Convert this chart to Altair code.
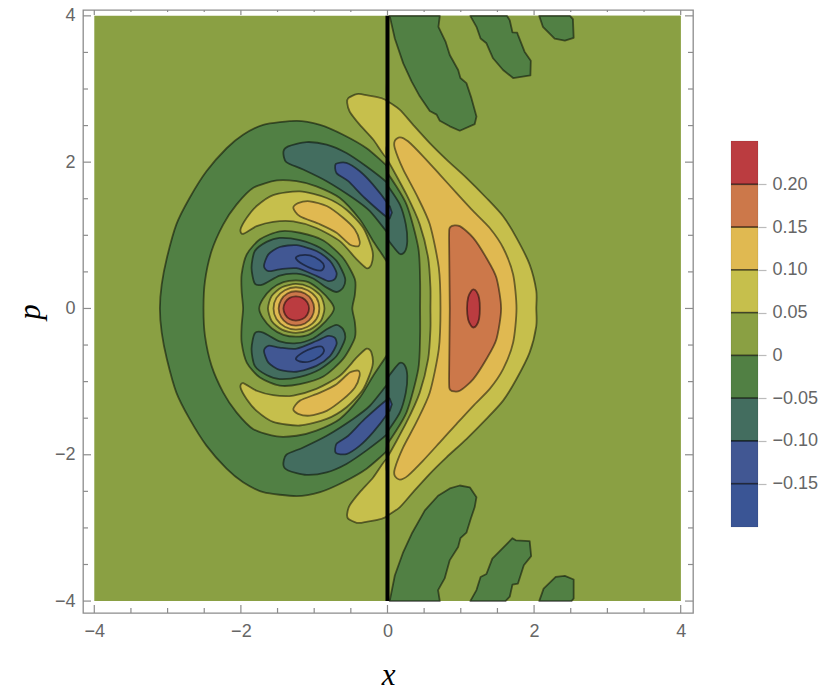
import altair as alt
import pandas as pd

OLIVE = "#8aa043"; GREEN = "#518044"; TEAL = "#436d5f"; BLUE = "#415793"; DEEP = "#3a5595"
YELLOW = "#c6bf4c"; GOLD = "#e0b951"; ORANGE = "#cc784a"; RED = "#bb3c40"

background = [[-4, 4], [4, 4], [4, -4], [-4, -4]]
right_base = [[0, 4], [4, 4], [4, -4], [0, -4]]

# left half
lobe_up = [[0, 2.83], [-.31, 2.92], [-.42, 2.93], [-.535, 2.875], [-.55, 2.81], [-.515, 2.69], [-.377, 2.51], [-.195, 2.31], [0, 2.05], [0, 2.4]]
lobe_dn = [[0, -2.83], [-.31, -2.92], [-.42, -2.93], [-.535, -2.875], [-.55, -2.81], [-.515, -2.69], [-.377, -2.51], [-.195, -2.31], [0, -2.05], [0, -2.4]]
ring = [[-3.105, 0], [-3.08, .33], [-3.01, .69], [-2.88, 1.15], [-2.70, 1.51], [-2.47, 1.875], [-2.195, 2.19], [-1.97, 2.375], [-1.695, 2.51], [-1.24, 2.565], [-.92, 2.51], [-.605, 2.375], [-.285, 2.19], [0, 1.94], [0, 1.9],
        [0, -1.9], [0, -1.94], [-.285, -2.19], [-.605, -2.375], [-.92, -2.51], [-1.24, -2.565], [-1.695, -2.51], [-1.97, -2.375], [-2.195, -2.19], [-2.47, -1.875], [-2.70, -1.51], [-2.88, -1.15], [-3.01, -.69], [-3.08, -.33]]
ring_in = [[-2.51, 0], [-2.49, .375], [-2.40, .785], [-2.24, 1.15], [-2.06, 1.42], [-1.83, 1.65], [-1.51, 1.75], [-1.24, 1.74], [-.97, 1.67], [-.65, 1.51], [-.377, 1.216], [-.195, .92], [0, .625], [0, .59],
           [0, -.59], [0, -.625], [-.195, -.92], [-.377, -1.216], [-.65, -1.51], [-.97, -1.67], [-1.24, -1.74], [-1.51, -1.75], [-1.83, -1.65], [-2.06, -1.42], [-2.24, -1.15], [-2.40, -.785], [-2.49, -.375]]
teal_up = [[-1.42, 2.14], [-1.355, 2.215], [-1.105, 2.275], [-.83, 2.24], [-.56, 2.125], [-.285, 1.94], [0, 1.715], [0, 1.68], [0, 1.07], [0, 1.035], [-.24, 1.33], [-.47, 1.51], [-.83, 1.74], [-1.15, 1.90], [-1.38, 2.0]]
teal_dn = [[-1.42, -2.14], [-1.355, -2.215], [-1.105, -2.275], [-.83, -2.24], [-.56, -2.125], [-.285, -1.94], [0, -1.715], [0, -1.68], [0, -1.07], [0, -1.035], [-.24, -1.33], [-.47, -1.51], [-.83, -1.74], [-1.15, -1.90], [-1.38, -2.0]]
blue_up = [[-.705, 1.975], [-.56, 1.99], [-.377, 1.875], [-.195, 1.69], [0, 1.44], [0, 1.41], [0, 1.27], [0, 1.24], [-.31, 1.51], [-.535, 1.74], [-.695, 1.85]]
blue_dn = [[-.705, -1.975], [-.56, -1.99], [-.377, -1.875], [-.195, -1.69], [0, -1.44], [0, -1.41], [0, -1.27], [0, -1.24], [-.31, -1.51], [-.535, -1.74], [-.695, -1.85]]
cres_up = [[-2.005, 1.08], [-1.92, 1.24], [-1.785, 1.40], [-1.56, 1.55], [-1.195, 1.60], [-.83, 1.51], [-.56, 1.35], [-.33, 1.10], [-.205, .785], [-.22, .60], [-.285, .55], [-.42, .67], [-.65, .92], [-.97, 1.10], [-1.285, 1.19], [-1.56, 1.185], [-1.785, 1.125], [-1.97, 1.02]]
cres_dn = [[-2.005, -1.08], [-1.92, -1.24], [-1.785, -1.40], [-1.56, -1.55], [-1.195, -1.60], [-.83, -1.51], [-.56, -1.35], [-.33, -1.10], [-.205, -.785], [-.22, -.60], [-.285, -.55], [-.42, -.67], [-.65, -.92], [-.97, -1.10], [-1.285, -1.19], [-1.56, -1.185], [-1.785, -1.125], [-1.97, -1.02]]
gold_up = [[-1.285, 1.375], [-1.22, 1.44], [-1.06, 1.465], [-.83, 1.40], [-.605, 1.24], [-.445, 1.08], [-.38, .92], [-.40, .85], [-.515, .875], [-.695, 1.035], [-.92, 1.15], [-1.195, 1.26]]
gold_dn = [[-1.285, -1.375], [-1.22, -1.44], [-1.06, -1.465], [-.83, -1.40], [-.605, -1.24], [-.445, -1.08], [-.38, -.92], [-.40, -.85], [-.515, -.875], [-.695, -1.035], [-.92, -1.15], [-1.195, -1.26]]
peanut = [[-1.97, 0], [-1.99, .24], [-1.99, .465], [-1.92, .74], [-1.74, .945], [-1.47, 1.055], [-1.195, 1.035], [-.875, .93], [-.605, .69], [-.445, .40], [-.445, .19], [-.48, 0],
          [-.445, -.19], [-.445, -.40], [-.605, -.69], [-.875, -.93], [-1.195, -1.035], [-1.47, -1.055], [-1.74, -.945], [-1.92, -.74], [-1.99, -.465], [-1.99, -.24]]
ptl_up = [[-1.855, .555], [-1.81, .785], [-1.65, .91], [-1.47, .965], [-1.195, .935], [-.92, .83], [-.695, .65], [-.58, .42], [-.605, .285], [-.695, .225], [-.83, .285], [-1.015, .41], [-1.24, .475], [-1.47, .45], [-1.695, .33], [-1.81, .34]]
ptl_dn = [[-1.855, -.555], [-1.81, -.785], [-1.65, -.91], [-1.47, -.965], [-1.195, -.935], [-.92, -.83], [-.695, -.65], [-.58, -.42], [-.605, -.285], [-.695, -.225], [-.83, -.285], [-1.015, -.41], [-1.24, -.475], [-1.47, -.45], [-1.695, -.33], [-1.81, -.34]]
pbl_up = [[-1.685, .58], [-1.625, .74], [-1.47, .84], [-1.24, .865], [-.97, .785], [-.785, .65], [-.695, .49], [-.72, .40], [-.81, .375], [-.97, .445], [-1.24, .55], [-1.47, .535], [-1.625, .51]]
pbl_dn = [[-1.685, -.58], [-1.625, -.74], [-1.47, -.84], [-1.24, -.865], [-.97, -.785], [-.785, -.65], [-.695, -.49], [-.72, -.40], [-.81, -.375], [-.97, -.445], [-1.24, -.55], [-1.47, -.535], [-1.625, -.51]]
pdp_up = [[-1.25, .685], [-1.195, .725], [-1.06, .725], [-.92, .655], [-.865, .58], [-.90, .52], [-1.005, .535], [-1.15, .60]]
pdp_dn = [[-1.25, -.685], [-1.195, -.725], [-1.06, -.725], [-.92, -.655], [-.865, -.58], [-.90, -.52], [-1.005, -.535], [-1.15, -.60]]
lemon0 = [[-1.75, 0], [-1.70, .13], [-1.58, .27], [-1.42, .36], [-1.25, .385], [-1.08, .36], [-.92, .25], [-.78, .10], [-.73, 0], [-.78, -.10], [-.92, -.25], [-1.08, -.36], [-1.25, -.385], [-1.42, -.36], [-1.58, -.27], [-1.70, -.13]]
lemon1 = [[-1.63, 0], [-1.58, .17], [-1.44, .29], [-1.25, .335], [-1.06, .29], [-.91, .17], [-.86, 0], [-.91, -.17], [-1.06, -.29], [-1.25, -.335], [-1.44, -.29], [-1.58, -.17]]
lemon2 = [[-1.555, 0], [-1.515, .145], [-1.40, .25], [-1.25, .29], [-1.09, .25], [-.97, .145], [-.93, 0], [-.97, -.145], [-1.09, -.25], [-1.25, -.29], [-1.40, -.25], [-1.515, -.145]]
lemon3 = [[-1.485, 0], [-1.45, .12], [-1.365, .205], [-1.25, .235], [-1.125, .205], [-1.035, .12], [-1.0, 0], [-1.035, -.12], [-1.125, -.205], [-1.25, -.235], [-1.365, -.205], [-1.45, -.12]]
lemon4 = [[-1.42, 0], [-1.395, .085], [-1.335, .145], [-1.25, .165], [-1.16, .145], [-1.095, .085], [-1.07, 0], [-1.095, -.085], [-1.16, -.145], [-1.25, -.165], [-1.335, -.145], [-1.395, -.085]]

# right half
tong1 = [[.03, 4], [.10, 3.69], [.215, 3.35], [.33, 3.10], [.44, 2.90], [.577, 2.70], [.67, 2.65], [.714, 2.565], [.85, 2.49], [.986, 2.43], [1.19, 2.52], [1.214, 2.625], [1.145, 2.875], [1.077, 3.08], [.995, 3.15], [.964, 3.26], [.85, 3.465], [.795, 3.64], [.695, 3.85], [.714, 4]]
tong2 = [[1.13, 4], [1.214, 3.85], [1.27, 3.69], [1.35, 3.625], [1.44, 3.42], [1.577, 3.26], [1.714, 3.15], [1.95, 3.185], [1.955, 3.385], [1.87, 3.51], [1.78, 3.74], [1.77, 3.77], [1.705, 3.775], [1.668, 3.94], [1.63, 4]]
tong3 = [[2.07, 4], [2.12, 3.85], [2.28, 3.69], [2.42, 3.66], [2.54, 3.70], [2.53, 3.955], [2.49, 4]]
tong4 = [[.03, -4], [.10, -3.65], [.215, -3.33], [.33, -3.08], [.51, -2.76], [.69, -2.56], [.85, -2.46], [.986, -2.42], [1.123, -2.445], [1.214, -2.58], [1.19, -2.715], [1.136, -2.875], [1.077, -3.065], [.995, -3.14], [.964, -3.26], [.85, -3.44], [.78, -3.69], [.69, -3.85], [.714, -4]]
tong5 = [[1.13, -4], [1.214, -3.85], [1.27, -3.67], [1.35, -3.63], [1.43, -3.42], [1.705, -3.14], [1.75, -3.17], [1.94, -3.18], [1.96, -3.385], [1.86, -3.51], [1.78, -3.76], [1.705, -3.775], [1.668, -3.94], [1.61, -4]]
tong6 = [[2.07, -4], [2.13, -3.83], [2.295, -3.67], [2.42, -3.655], [2.54, -3.705], [2.54, -3.965], [2.51, -4]]
right_yellow = [[0, 2.79], [0, 2.83], [.17, 2.715], [.35, 2.51], [.577, 2.26], [.805, 2.035], [1.077, 1.785], [1.35, 1.51], [1.577, 1.26], [1.76, .965], [1.94, .60], [2.03, .24], [2.03, 0],
                [2.03, -.24], [1.94, -.60], [1.76, -.965], [1.577, -1.26], [1.35, -1.51], [1.077, -1.785], [.805, -2.035], [.577, -2.26], [.35, -2.51], [.17, -2.715], [0, -2.83], [0, -2.79]]
right_olive = [[0, 1.96], [0, 2.03], [.26, 1.555], [.44, 1.15], [.555, .69], [.586, .285], [.586, 0], [.586, -.285], [.555, -.69], [.44, -1.15], [.26, -1.555], [0, -2.03], [0, -1.96]]
right_green = [[0, 1.78], [0, 1.85], [.26, 1.42], [.42, .83], [.445, .375], [.445, 0], [.445, -.375], [.42, -.83], [.26, -1.42], [0, -1.85], [0, -1.78]]
right_teal_up = [[0, 1.62], [0, 1.68], [.17, 1.42], [.25, 1.15], [.27, .92], [.235, .775], [.16, .75], [0, .95], [0, 1.0]]
right_teal_dn = [[0, -1.62], [0, -1.68], [.17, -1.42], [.25, -1.15], [.27, -.92], [.235, -.775], [.16, -.75], [0, -.95], [0, -1.0]]
sliver_up = [[0, 1.40], [.03, 1.40], [.06, 1.31], [.03, 1.23], [0, 1.23]]
sliver_dn = [[0, -1.40], [.03, -1.40], [.06, -1.31], [.03, -1.23], [0, -1.23]]
right_gold = [[.10, 2.19], [.10, 2.29], [.17, 2.34], [.28, 2.285], [.486, 2.08], [.714, 1.83], [.94, 1.58], [1.17, 1.33], [1.395, 1.10], [1.577, .83], [1.714, .465], [1.76, 0],
              [1.714, -.465], [1.577, -.83], [1.395, -1.10], [1.17, -1.33], [.94, -1.58], [.714, -1.83], [.486, -2.08], [.28, -2.285], [.17, -2.34], [.10, -2.29], [.10, -2.19],
              [.214, -1.90], [.395, -1.555], [.577, -1.15], [.70, -.557], [.723, 0], [.70, .557], [.577, 1.15], [.395, 1.555], [.214, 1.90]]
right_orange = [[.86, 1.115], [.986, 1.125], [1.17, .965], [1.35, .69], [1.486, .42], [1.55, 0], [1.486, -.42], [1.35, -.69], [1.17, -.965], [.986, -1.125], [.86, -1.115], [.84, -.965], [.85, 0], [.84, .965]]
right_red = [[1.085, 0], [1.10, .15], [1.14, .235], [1.175, .26], [1.215, .23], [1.25, .14], [1.26, 0], [1.25, -.14], [1.215, -.23], [1.175, -.26], [1.14, -.235], [1.10, -.15]]

# (outline, fill, drawn with a contour line, smooth)
shapes = [
    (background, OLIVE, False, False),
    (lobe_up, YELLOW, True, True), (lobe_dn, YELLOW, True, True),
    (ring, GREEN, True, True), (ring_in, OLIVE, True, True),
    (teal_up, TEAL, True, True), (teal_dn, TEAL, True, True),
    (blue_up, BLUE, True, True), (blue_dn, BLUE, True, True),
    (cres_up, YELLOW, True, True), (cres_dn, YELLOW, True, True),
    (gold_up, GOLD, True, True), (gold_dn, GOLD, True, True),
    (peanut, GREEN, True, True),
    (ptl_up, TEAL, True, True), (ptl_dn, TEAL, True, True),
    (pbl_up, BLUE, True, True), (pbl_dn, BLUE, True, True),
    (pdp_up, DEEP, True, True), (pdp_dn, DEEP, True, True),
    (lemon0, OLIVE, True, True), (lemon1, YELLOW, True, True), (lemon2, GOLD, True, True),
    (lemon3, ORANGE, True, True), (lemon4, RED, True, True),
    (right_base, OLIVE, False, False),
    (tong1, GREEN, True, False), (tong2, GREEN, True, False), (tong3, GREEN, True, False),
    (tong4, GREEN, True, False), (tong5, GREEN, True, False), (tong6, GREEN, True, False),
    (right_yellow, YELLOW, True, True), (right_olive, OLIVE, True, True), (right_green, GREEN, True, True),
    (right_teal_up, TEAL, True, True), (right_teal_dn, TEAL, True, True),
    (sliver_up, BLUE, True, False), (sliver_dn, BLUE, True, False),
    (right_gold, GOLD, True, True), (right_orange, ORANGE, True, True), (right_red, RED, True, True),
]

major_ticks = [-4, -2, 0, 2, 4]
minor_ticks = [-3.5, -3, -2.5, -1.5, -1, -.5, .5, 1, 1.5, 2.5, 3, 3.5]

legend_lo = [.20, .15, .10, .05, 0, -.05, -.10, -.15, -.2006]
legend_hi = [.2506, .20, .15, .10, .05, 0, -.05, -.10, -.15]
legend_colors = [RED, ORANGE, GOLD, YELLOW, OLIVE, GREEN, TEAL, BLUE, DEEP]
legend_levels = [.20, .15, .10, .05, 0, -.05, -.10, -.15]

W, H = 610, 603
INK = "#666666"
FRAME = "#8c8c8c"
xs = alt.Scale(domain=[-4.154, 4.168], nice=False, zero=False)
ys = alt.Scale(domain=[-4.163, 4.08], nice=False, zero=False)
label_expr = "replace(datum.label, '-', '\u2212')"
x_axis = alt.Axis(values=major_ticks, title="x", grid=False, ticks=False, domain=False, labelColor=INK,
                  labelFont="Liberation Sans", labelFontSize=18, labelPadding=9, labelExpr=label_expr,
                  titleFont="Liberation Serif", titleFontStyle="italic", titleFontWeight="normal",
                  titleFontSize=31, titleColor="black", titlePadding=20)
y_axis = alt.Axis(values=major_ticks, title="p", grid=False, ticks=False, domain=False, labelColor=INK,
                  labelFont="Liberation Sans", labelFontSize=18, labelPadding=8, labelExpr=label_expr,
                  titleFont="Liberation Serif", titleFontStyle="italic", titleFontWeight="normal",
                  titleFontSize=31, titleColor="black", titlePadding=8)

layers = []
for outline, fill, contour, smooth in shapes:
    frame = pd.DataFrame(outline, columns=["x", "p"])
    frame["i"] = range(len(frame))
    mark = alt.Chart(frame).mark_line(
        interpolate="cardinal-closed" if smooth else "linear-closed",
        tension=0.25,
        stroke="black", strokeOpacity=0.5 if contour else 0, strokeWidth=1.8, strokeJoin="round",
    )
    layers.append(mark.encode(
        x=alt.X("x:Q", scale=xs, axis=x_axis),
        y=alt.Y("p:Q", scale=ys, axis=y_axis),
        order=alt.Order("i:Q"),
        fill=alt.value(fill),
    ))

axis_line = alt.Chart(pd.DataFrame({"x": [0], "p0": [-4], "p1": [4]})).mark_rule(color="black", strokeWidth=4).encode(
    x=alt.X("x:Q", scale=xs, axis=x_axis), y=alt.Y("p0:Q", scale=ys, axis=y_axis), y2="p1:Q")
layers.append(axis_line)

def tick_layers(values, long):
    frame = pd.DataFrame({"v": values})
    x = alt.X("v:Q", scale=xs, axis=x_axis)
    y = alt.Y("v:Q", scale=ys, axis=y_axis)
    base = alt.Chart(frame).mark_rule(color=FRAME, strokeWidth=1.2)
    return [
        base.encode(x=x, y=alt.value(H), y2=alt.value(H - long)),
        base.encode(x=x, y=alt.value(0), y2=alt.value(long - 3)),
        base.encode(y=y, x=alt.value(0), x2=alt.value(long)),
        base.encode(y=y, x=alt.value(W), x2=alt.value(W - long)),
    ]

layers += tick_layers(major_ticks, 8) + tick_layers(minor_ticks, 5)

main = alt.layer(*layers).properties(width=W, height=H, view=alt.ViewConfig(stroke=FRAME, strokeWidth=1.3))

ls = alt.Scale(domain=[-.3012, .4038], nice=False, zero=False)
legend_axis = alt.Axis(
    orient="right", values=legend_levels, title=None, grid=False, domain=False,
    tickColor="#bbbbbb", tickSize=8, tickWidth=1.2, labelColor=INK, labelFont="Liberation Sans",
    labelFontSize=18, labelPadding=6,
    labelExpr="datum.value == 0 ? '0' : replace(format(datum.value, '.2f'), '-', '\u2212')")
bands = pd.DataFrame({"lo": legend_lo, "hi": legend_hi, "c": legend_colors})
band_layer = alt.Chart(bands).mark_rect(stroke="black", strokeOpacity=0.08, strokeWidth=1).encode(
    x=alt.value(0), x2=alt.value(27),
    y=alt.Y("lo:Q", scale=ls, axis=legend_axis),
    y2="hi:Q",
    fill=alt.Fill("c:N", scale=None),
)
level_layer = alt.Chart(pd.DataFrame({"v": legend_levels})).mark_rule(color="black", strokeOpacity=0.6, strokeWidth=1.6).encode(
    x=alt.value(0), x2=alt.value(27), y=alt.Y("v:Q", scale=ls, axis=legend_axis))
legend = alt.layer(band_layer, level_layer).properties(width=27, height=H)

chart = alt.hconcat(main, legend, spacing=34).properties(
    padding={"left": 5, "top": -2, "right": 0, "bottom": -5},
    background="white",
).configure_view(stroke="transparent")

chart.save("out.html", embed_options={"renderer": "svg", "actions": False})
